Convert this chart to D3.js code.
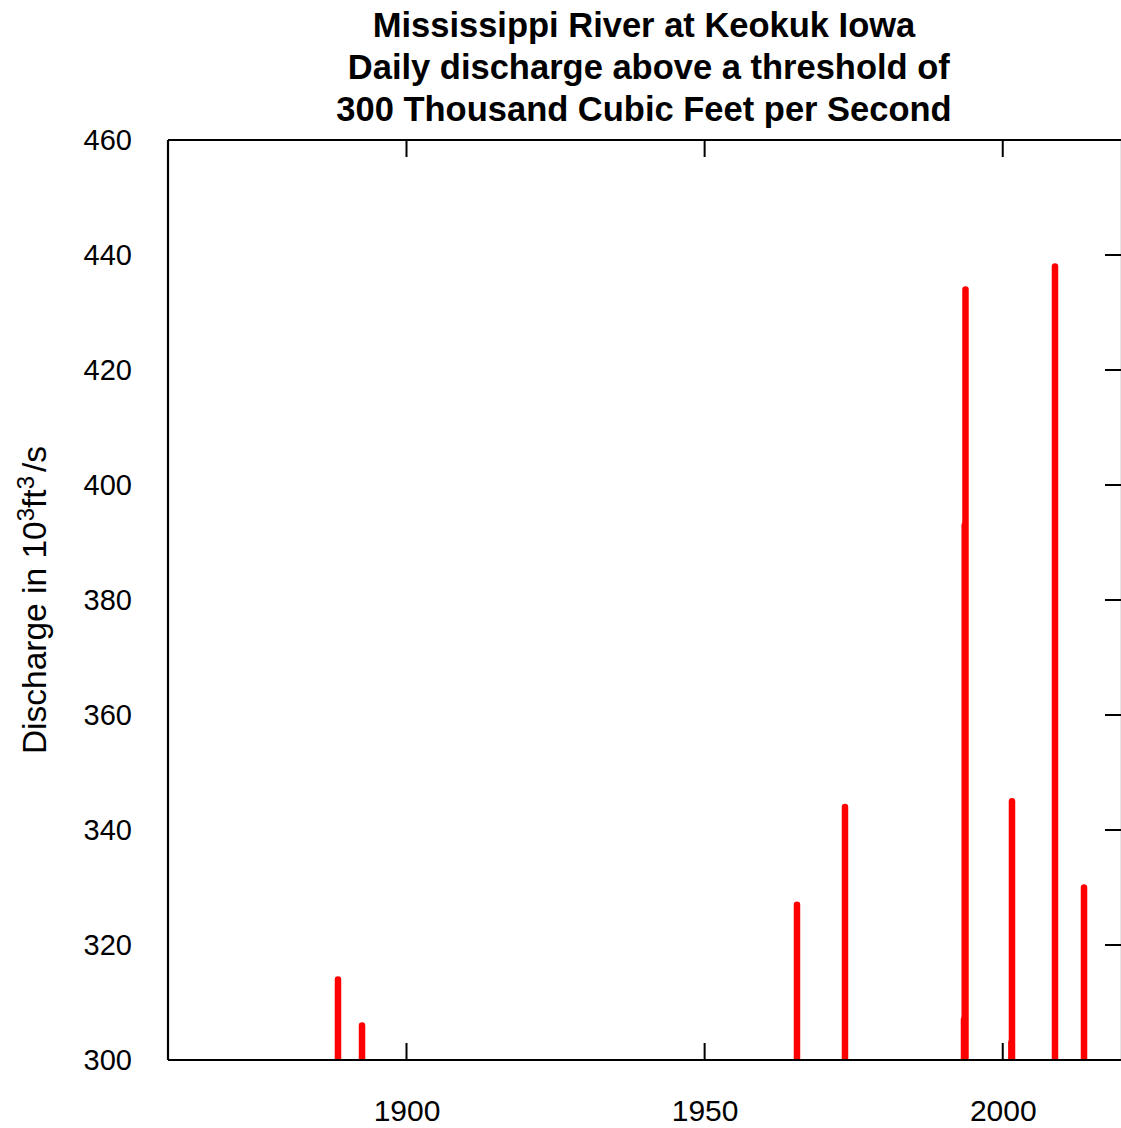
<!DOCTYPE html>
<html><head><meta charset="utf-8">
<script src="https://cdn.jsdelivr.net/npm/d3@7"></script>
<style>body{margin:0;background:#fff}svg{display:block}text{font-family:"Liberation Sans",Arial,sans-serif}</style>
</head><body>
<script>
const titleLines = ["Mississippi River at Keokuk Iowa", " Daily discharge above a threshold of", "300 Thousand Cubic Feet per Second"];
const dates = [1888.51, 1892.54, 1965.49, 1973.54, 1993.50, 1993.62, 1993.75, 2001.45, 2001.55, 2008.76, 2013.63];
const discharge = [314, 306, 327, 344, 307, 393, 434, 303, 345, 438, 330];
const xTicks = [1900, 1950, 2000];
const yTicks = [300, 320, 340, 360, 380, 400, 420, 440, 460];
const xDomain = [1860, 2020];
const yDomain = [300, 460];

const W = 1121, H = 1128;
const m = {left: 168, right: 1122, top: 140, bottom: 1060};
const svg = d3.select("body").append("svg").attr("width", W).attr("height", H);
const x = d3.scaleLinear().domain(xDomain).range([m.left, m.right]);
const y = d3.scaleLinear().domain(yDomain).range([m.bottom, m.top]);

svg.append("defs").append("clipPath").attr("id","clip").append("rect")
  .attr("x", m.left).attr("y", m.top).attr("width", m.right - m.left).attr("height", m.bottom - m.top);

// title
svg.append("text").attr("text-anchor","middle").attr("font-weight","bold").attr("font-size",34.5)
  .selectAll("tspan").data(titleLines).join("tspan")
  .attr("x", (m.left + m.right)/2 - 1).attr("y", (d,i)=>37 + i*42)
  .style("white-space","pre").text(d=>d);

// bars
svg.append("g").attr("clip-path","url(#clip)").selectAll("line").data(dates.map((d,i)=>({d, v: discharge[i]})))
  .join("line")
  .attr("x1", d=>x(d.d)).attr("x2", d=>x(d.d))
  .attr("y1", y(yDomain[0]) + 4).attr("y2", d=>y(d.v))
  .attr("stroke","#ff0000").attr("stroke-width",6.5).attr("stroke-linecap","round");

// axes
const tl = 17;
const bottom = d3.axisBottom(x).tickValues(xTicks).tickSize(0).tickPadding(40).tickFormat(d3.format("d"));
const gb = svg.append("g").attr("transform",`translate(0,${m.bottom})`).call(bottom);
gb.select(".domain").remove();
gb.selectAll("text").attr("font-size",30).attr("fill","#000").attr("font-family","Liberation Sans, Arial, sans-serif");

const left = d3.axisLeft(y).tickValues(yTicks).tickSize(0).tickPadding(36);
const gl = svg.append("g").attr("transform",`translate(${m.left},0)`).call(left);
gl.select(".domain").remove();
gl.selectAll("text").attr("font-size",29).attr("fill","#000").attr("font-family","Liberation Sans, Arial, sans-serif");

const frame = svg.append("g").attr("stroke","#000").attr("stroke-width",2.2).attr("fill","none");
frame.append("line").attr("x1",m.left).attr("x2",m.right).attr("y1",m.top).attr("y2",m.top);
frame.append("line").attr("x1",m.left).attr("x2",m.left).attr("y1",m.top).attr("y2",m.bottom);
frame.append("line").attr("x1",m.left).attr("x2",m.right).attr("y1",m.bottom).attr("y2",m.bottom);
frame.append("line").attr("x1",m.right).attr("x2",m.right).attr("y1",m.top).attr("y2",m.bottom);

const tk = svg.append("g").attr("stroke","#000").attr("stroke-width",2);
tk.selectAll(".bt").data(xTicks).join("line").attr("x1",d=>x(d)).attr("x2",d=>x(d)).attr("y1",m.bottom).attr("y2",m.bottom-tl);
tk.selectAll(".tt").data(xTicks).join("line").attr("x1",d=>x(d)).attr("x2",d=>x(d)).attr("y1",m.top).attr("y2",m.top+tl);
tk.selectAll(".rt").data(yTicks).join("line").attr("x1",m.right).attr("x2",m.right-tl).attr("y1",d=>y(d)).attr("y2",d=>y(d));

// y label
const yl = svg.append("text").attr("transform","translate(46,600) rotate(-90)").attr("text-anchor","middle").attr("font-size",33.5);
yl.append("tspan").text("Discharge in 10");
yl.append("tspan").attr("font-size",24).attr("dy",-12).text("3");
yl.append("tspan").attr("dy",12).text("ft");
yl.append("tspan").attr("font-size",24).attr("dy",-12).text("3");
yl.append("tspan").attr("dy",12).attr("dx",4).text("/s");
</script>
</body></html>
